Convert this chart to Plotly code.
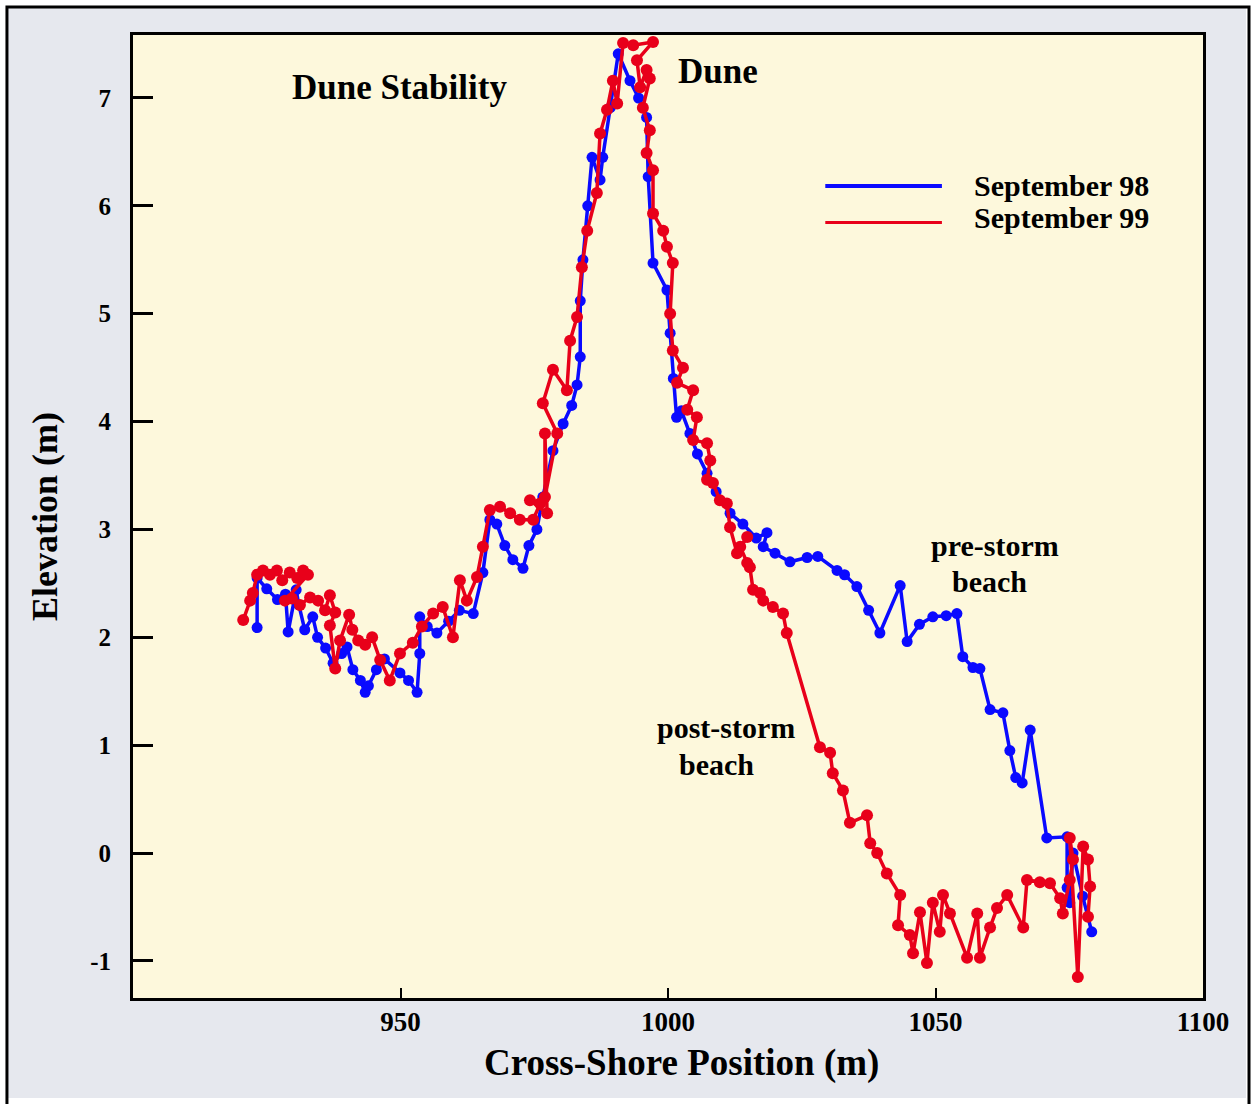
import plotly.graph_objects as go

# Cross-shore profile, September 1998 (pre-storm)
x_sep98 = [923.2, 923.2, 925.0, 927.0, 928.5, 929.0, 930.5, 931.0, 932.1, 933.6,
           934.5, 936.0, 937.4, 939.0, 940.0, 941.1, 942.5, 943.4, 944.0, 945.5,
           947.0, 949.9, 951.5, 953.1, 953.6, 953.6, 955.0, 956.8, 959.0, 961.0,
           963.6, 965.4, 966.7, 968.0, 969.5, 971.0, 972.9, 974.0, 975.5, 976.6,
           978.5, 980.4, 982.0, 983.0, 983.6, 983.6, 984.1, 985.0, 985.8, 987.3,
           987.8, 989.2, 990.7, 992.9, 994.5, 996.0, 996.3, 997.2, 999.8, 1000.4,
           1001.0, 1001.6, 1002.5, 1004.1, 1005.5, 1007.3, 1009.0, 1011.6, 1014.0, 1016.5,
           1018.5, 1017.8, 1020.0, 1022.8, 1026.0, 1028.0, 1031.6, 1033.0, 1035.3, 1037.5,
           1039.6, 1043.4, 1044.7, 1047.0, 1049.5, 1052.0, 1054.0, 1055.1, 1057.0, 1058.3,
           1060.2, 1062.6, 1063.9, 1065.0, 1066.2, 1067.7, 1070.8, 1074.6, 1074.6, 1075.1,
           1075.7, 1077.5, 1079.2]
y_sep98 = [2.09, 2.55, 2.45, 2.35, 2.40, 2.05, 2.44, 2.30, 2.07, 2.19,
           2.00, 1.90, 1.76, 1.85, 1.91, 1.70, 1.60, 1.49, 1.55, 1.70,
           1.80, 1.67, 1.60, 1.49, 1.85, 2.19, 2.10, 2.04, 2.15, 2.25,
           2.22, 2.60, 3.09, 3.05, 2.85, 2.72, 2.64, 2.85, 3.00, 3.30,
           3.73, 3.98, 4.15, 4.34, 4.60, 5.12, 5.50, 6.00, 6.45, 6.24,
           6.45, 6.91, 7.41, 7.16, 7.00, 6.82, 6.27, 5.47, 5.22, 4.82,
           4.40, 4.04, 4.10, 3.89, 3.70, 3.52, 3.35, 3.15, 3.05, 2.92,
           2.97, 2.84, 2.78, 2.70, 2.74, 2.75, 2.62, 2.58, 2.47, 2.25,
           2.04, 2.48, 1.96, 2.12, 2.19, 2.20, 2.22, 1.82, 1.72, 1.71,
           1.33, 1.30, 0.95, 0.70, 0.65, 1.14, 0.14, 0.15, -0.32, -0.46,
           0.00, -0.40, -0.73]

# Cross-shore profile, September 1999 (post-storm)
x_sep99 = [920.6, 921.9, 922.4, 923.2, 924.3, 925.6, 926.9, 927.9, 929.3, 930.7,
           931.8, 932.7, 928.4, 929.7, 931.2, 933.1, 934.6, 935.9, 936.8, 937.8,
           936.8, 937.8, 938.7, 940.4, 941.0, 942.1, 943.4, 944.7, 946.2, 948.0,
           949.9, 952.3, 954.0, 956.1, 957.9, 959.8, 961.1, 962.4, 964.3, 965.4,
           966.7, 968.6, 970.5, 972.3, 974.8, 976.1, 974.2, 977.4, 977.0, 977.0,
           979.3, 976.6, 978.5, 981.1, 981.7, 983.0, 983.9, 984.9, 986.7, 987.3,
           988.6, 989.7, 990.5, 991.6, 993.5, 997.2, 994.2, 994.8, 996.0, 996.6,
           995.3, 996.6, 996.0, 997.2, 997.2, 999.1, 999.8, 1000.9, 1000.4, 1000.9,
           1002.8, 1001.7, 1004.7, 1003.6, 1005.4, 1004.7, 1007.3, 1007.9, 1007.3, 1008.4,
           1009.7, 1011.0, 1011.6, 1012.9, 1014.8, 1013.5, 1014.8, 1015.3, 1015.9, 1017.2,
           1017.8, 1019.6, 1021.5, 1022.2, 1028.4, 1030.3, 1030.8, 1032.7, 1034.0, 1037.2,
           1037.8, 1039.1, 1040.9, 1043.4, 1043.0, 1045.2, 1045.8, 1047.1, 1048.4, 1049.5,
           1050.8, 1051.4, 1052.7, 1055.9, 1057.8, 1058.3, 1060.2, 1061.5, 1063.4, 1066.4,
           1067.1, 1069.5, 1071.4, 1073.3, 1073.8, 1075.1, 1075.7, 1075.1, 1076.6, 1077.6,
           1078.5, 1078.9, 1078.5]
y_sep99 = [2.16, 2.34, 2.41, 2.58, 2.62, 2.58, 2.62, 2.53, 2.60, 2.55,
           2.62, 2.58, 2.34, 2.36, 2.30, 2.37, 2.34, 2.25, 2.39, 2.23,
           2.11, 1.71, 1.97, 2.21, 2.07, 1.97, 1.93, 2.00, 1.79, 1.60,
           1.85, 1.95, 2.10, 2.22, 2.28, 2.00, 2.53, 2.34, 2.56, 2.84,
           3.18, 3.21, 3.15, 3.09, 3.09, 3.24, 3.27, 3.15, 3.89, 3.30,
           3.89, 4.17, 4.48, 4.29, 4.75, 4.97, 5.43, 5.77, 6.12, 6.67,
           6.89, 7.16, 6.95, 7.51, 7.49, 7.52, 7.35, 7.10, 7.26, 7.18,
           6.91, 6.70, 6.49, 6.33, 5.93, 5.77, 5.62, 5.47, 5.00, 4.66,
           4.50, 4.36, 4.29, 4.11, 4.04, 3.83, 3.80, 3.64, 3.46, 3.43,
           3.27, 3.24, 3.02, 2.78, 2.93, 2.84, 2.69, 2.65, 2.44, 2.41,
           2.34, 2.28, 2.22, 2.04, 0.98, 0.93, 0.74, 0.58, 0.28, 0.35,
           0.09, 0.00, -0.19, -0.39, -0.67, -0.76, -0.93, -0.55, -1.02, -0.46,
           -0.73, -0.39, -0.56, -0.97, -0.56, -0.97, -0.69, -0.51, -0.39, -0.69,
           -0.25, -0.27, -0.28, -0.42, -0.56, -0.25, -0.06, 0.14, -1.15, 0.06,
           -0.06, -0.31, -0.59]

x_ticks = [950, 1000, 1050, 1100]
x_tick_labels = ["950", "1000", "1050", "1100"]
y_ticks = [-1, 0, 1, 2, 3, 4, 5, 6, 7]
y_tick_labels = ["-1", "0", "1", "2", "3", "4", "5", "6", "7"]

BLUE = "#0a0aff"
RED = "#e8001a"
SERIF = "Liberation Serif"
PANEL = "#e6e8ee"

fig = go.Figure()
fig.add_trace(go.Scatter(
    x=x_sep98, y=y_sep98, mode="lines+markers", name="September 98",
    line=dict(color=BLUE, width=3.5), marker=dict(color=BLUE, size=11),
    showlegend=False))
fig.add_trace(go.Scatter(
    x=x_sep99, y=y_sep99, mode="lines+markers", name="September 99",
    line=dict(color=RED, width=3.5), marker=dict(color=RED, size=12),
    showlegend=False))

bold = dict(family=SERIF, color="black", weight="bold")

# White page margin and black panel frame around the figure
fig.add_shape(type="rect", xref="paper", yref="paper",
              x0=-0.1243, x1=1.0458, y0=-0.1101, y1=1.0363,
              fillcolor="rgba(0,0,0,0)", line=dict(color="white", width=12))
fig.add_shape(type="rect", xref="paper", yref="paper",
              x0=-0.1178, x1=1.0430, y0=-0.14, y1=1.0290,
              fillcolor="rgba(0,0,0,0)", line=dict(color="black", width=3))

# Hand-drawn legend keys
fig.add_shape(type="line", xref="paper", yref="paper",
              x0=0.647, x1=0.756, y0=0.8432, y1=0.8432,
              line=dict(color=BLUE, width=4))
fig.add_shape(type="line", xref="paper", yref="paper",
              x0=0.647, x1=0.756, y0=0.8053, y1=0.8053,
              line=dict(color=RED, width=3))

notes = [
    ("Dune Stability", 0.2495, 0.9460, 35),
    ("Dune", 0.5463, 0.9616, 35),
    ("September 98", 0.7841, 0.8432, 30),
    ("September 99", 0.7841, 0.8110, 30),
    ("pre-storm", 0.8056, 0.4704, 30),
    ("beach", 0.8009, 0.4320, 30),
    ("post-storm", 0.5542, 0.2804, 30),
    ("beach", 0.5449, 0.2420, 30),
]
for text, xp, yp, size in notes:
    fig.add_annotation(
        text=text, xref="paper", yref="paper", x=xp, y=yp,
        xanchor="left" if text.startswith("September") else "center",
        yanchor="middle", showarrow=False, font=dict(size=size, **bold))

# x-axis title
fig.add_annotation(
    text="Cross-Shore Position (m)", xref="paper", yref="paper",
    x=0.513, y=-0.0675, xanchor="center", yanchor="middle",
    showarrow=False, font=dict(size=37, **bold))

fig.update_layout(
    width=1252, height=1104,
    margin=dict(l=133, r=49, t=35, b=106),
    paper_bgcolor=PANEL,
    plot_bgcolor="#fdf8dc",
    xaxis=dict(
        range=[900, 1100], tickvals=x_ticks, ticktext=x_tick_labels,
        ticks="inside", ticklen=10,
        tickwidth=2, tickcolor="black", showline=True, linewidth=3,
        linecolor="black", mirror=True, showgrid=False, zeroline=False,
        tickfont=dict(size=27, **bold), ticklabelstandoff=-2),
    yaxis=dict(
        range=[-1.344, 7.584], tickvals=y_ticks, ticktext=y_tick_labels,
        ticks="inside", ticklen=20,
        tickwidth=3, tickcolor="black", showline=True, linewidth=3,
        linecolor="black", mirror=True, showgrid=False, zeroline=False,
        tickfont=dict(size=25, **bold), ticklabelstandoff=14,
        title=dict(text="Elevation (m)", font=dict(size=36, **bold),
                   standoff=22)),
)

fig.write_html("out.html")
